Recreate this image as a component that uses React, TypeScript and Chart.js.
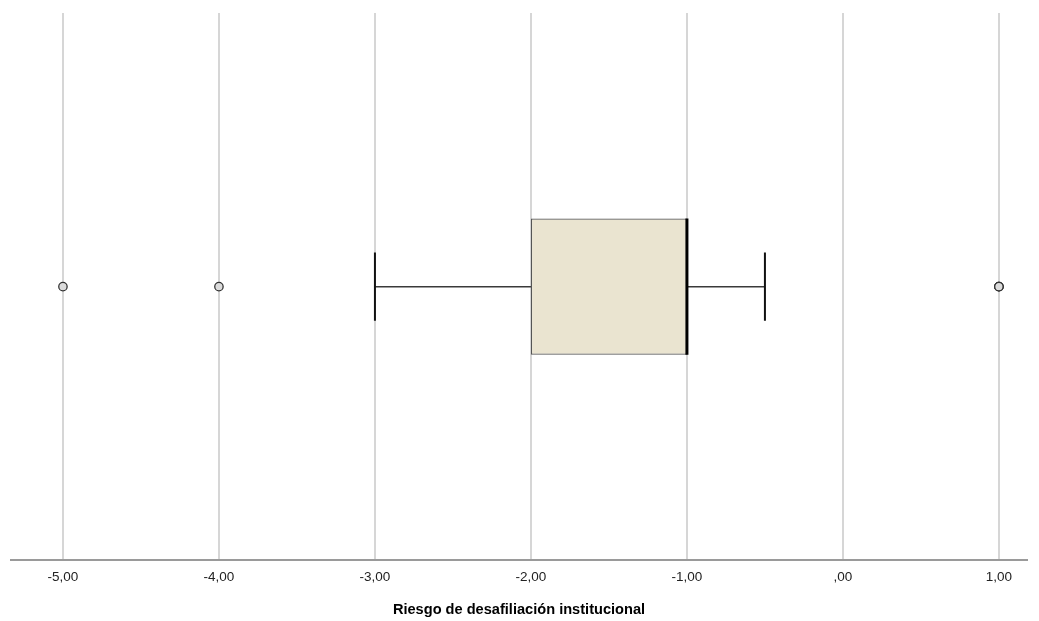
import React, { useEffect, useRef } from "react";
import { Chart, registerables } from "chart.js";

Chart.register(...registerables);

const categories = ["Riesgo"];
const boxRange: [number, number] = [-2, -1]; // Q1, Q3
const medianValue = -1;
const whiskerLow = -3;
const whiskerHigh = -0.5;
const outliers = [-5, -4, 1, 1, 1];
const tickValues = [-5, -4, -3, -2, -1, 0, 1];
const tickLabels = ["-5,00", "-4,00", "-3,00", "-2,00", "-1,00", ",00", "1,00"];
const axisTitle = "Riesgo de desafiliación institucional";

const FONT = "Arial, 'Liberation Sans', sans-serif";

const whiskerPlugin = {
  id: "whiskers",
  afterDatasetsDraw(chart: any) {
    const ctx = chart.ctx;
    const xs = chart.scales.x;
    const ys = chart.scales.y;
    const yc = ys.getPixelForValue(0);
    const full = ys.getPixelForValue(0.5) - ys.getPixelForValue(-0.5);
    const boxH = Math.abs(full) * 0.249;
    const capH = boxH * 0.5;
    ctx.save();
    ctx.strokeStyle = "#3a3a3a";
    ctx.lineWidth = 1.5;
    ctx.beginPath();
    ctx.moveTo(xs.getPixelForValue(whiskerLow), yc);
    ctx.lineTo(xs.getPixelForValue(boxRange[0]), yc);
    ctx.moveTo(xs.getPixelForValue(boxRange[1]), yc);
    ctx.lineTo(xs.getPixelForValue(whiskerHigh), yc);
    ctx.stroke();
    ctx.strokeStyle = "#111";
    ctx.lineWidth = 2;
    ctx.beginPath();
    [whiskerLow, whiskerHigh].forEach((v) => {
      const px = xs.getPixelForValue(v);
      ctx.moveTo(px, yc - capH / 2);
      ctx.lineTo(px, yc + capH / 2);
    });
    ctx.stroke();
    ctx.strokeStyle = "#000";
    ctx.lineWidth = 3;
    ctx.beginPath();
    const mx = xs.getPixelForValue(medianValue);
    ctx.moveTo(mx, yc - boxH / 2);
    ctx.lineTo(mx, yc + boxH / 2);
    ctx.stroke();
    ctx.restore();
  },
};

export default function App() {
  const ref = useRef<HTMLCanvasElement | null>(null);
  useEffect(() => {
    if (!ref.current) return;
    const chart = new Chart(ref.current, {
      type: "bar",
      data: {
        labels: categories,
        datasets: [
          {
            type: "bar",
            data: [boxRange] as any,
            backgroundColor: "#eae4d0",
            borderColor: "#555555",
            borderWidth: 1.2,
            borderSkipped: false,
            categoryPercentage: 1,
            barPercentage: 0.249,
            order: 2,
          } as any,
          {
            type: "scatter",
            data: outliers.map((v) => ({ x: v, y: categories[0] })) as any,
            pointRadius: 4.2,
            pointBackgroundColor: "#dcdcdc",
            pointBorderColor: "#333333",
            pointBorderWidth: 1.3,
            order: 1,
          } as any,
        ],
      },
      options: {
        indexAxis: "y",
        animation: false,
        responsive: false,
        devicePixelRatio: 1,
        layout: { padding: { left: 11, right: 12, top: 13, bottom: 0 } },
        plugins: { legend: { display: false }, tooltip: { enabled: false } },
        scales: {
          x: {
            type: "linear",
            min: -5.333,
            max: 1.18,
            afterBuildTicks: (axis: any) => {
              axis.ticks = tickValues.map((v) => ({ value: v }));
            },
            grid: { color: "#d6d6d6", lineWidth: 2, drawTicks: false },
            border: { display: true, color: "#9a9a9a", width: 2 },
            ticks: {
              padding: 9,
              color: "#222",
              font: { family: FONT, size: 13.5 },
              autoSkip: false,
              maxRotation: 0,
              callback: (v: any) => {
                const i = tickValues.indexOf(Number(v));
                return i >= 0 ? tickLabels[i] : "";
              },
            },
            title: {
              display: true,
              text: axisTitle,
              color: "#000",
              font: { family: FONT, size: 14.6, weight: "bold" },
              padding: { top: 7, bottom: 2 },
            },
          },
          y: {
            type: "category",
            display: false,
            grid: { display: false },
          },
        },
      },
      plugins: [whiskerPlugin],
    });
    return () => chart.destroy();
  }, []);
  return (
    <div style={{ position: "fixed", left: 0, top: 0, width: 1039, height: 621, background: "#fff" }}>
      <canvas ref={ref} width={1039} height={621} style={{ width: 1039, height: 621 }} />
    </div>
  );
}
